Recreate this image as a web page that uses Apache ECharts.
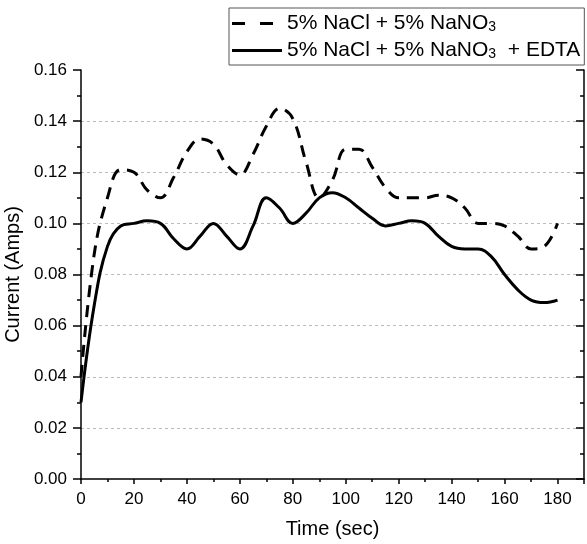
<!DOCTYPE html>
<html>
<head>
<meta charset="utf-8">
<script src="https://cdn.jsdelivr.net/npm/echarts@6/dist/echarts.min.js"></script>
<style>
  html, body { margin: 0; padding: 0; background: #fff; }
  #chart { width: 587px; height: 544px; }
</style>
</head>
<body>
<div id="chart"></div>
<script>
// time points (sec)
var times = [0, 5, 10, 15, 20, 25, 30, 35, 40, 45, 50, 55, 60, 65, 70, 75, 80, 85, 90,
  95, 100, 105, 110, 115, 120, 125, 130, 135, 140, 145, 150, 155, 160, 165, 170, 175, 180];
// 5% NaCl + 5% NaNO3
var nitrate = [0.040, 0.088, 0.110, 0.121, 0.120, 0.113, 0.110, 0.118, 0.128, 0.133, 0.131, 0.123, 0.119,
  0.127, 0.138, 0.145, 0.141, 0.124, 0.110, 0.117, 0.129, 0.129, 0.122, 0.114, 0.110, 0.110, 0.110,
  0.111, 0.110, 0.106, 0.100, 0.100, 0.099, 0.095, 0.090, 0.091, 0.100];
// 5% NaCl + 5% NaNO3 + EDTA
var edta = [0.030, 0.068, 0.091, 0.099, 0.100, 0.101, 0.100, 0.094, 0.090, 0.095, 0.100, 0.095, 0.090,
  0.099, 0.110, 0.106, 0.100, 0.104, 0.110, 0.112, 0.110, 0.106, 0.102, 0.099, 0.100, 0.101, 0.100,
  0.095, 0.091, 0.090, 0.090, 0.087, 0.080, 0.074, 0.070, 0.069, 0.070];
var seriesNames = ["5% NaCl + 5% NaNO3", "5% NaCl + 5% NaNO3 + EDTA"];

function pairs(ys) {
  return times.map(function (t, i) { return [t, ys[i]]; });
}

(function () {
  var myChart = echarts.init(document.getElementById('chart'));
  var font = "'Liberation Sans', Arial, sans-serif";

  // y axis style shared by the left and the mirror axis on the right
  var yBase = {
    type: 'value',
    min: 0,
    max: 0.16,
    interval: 0.02,
    minorTick: { show: true, splitNumber: 2, length: 4, lineStyle: { color: '#000', width: 1.5 } },
    axisTick: { length: 8, lineStyle: { color: '#000', width: 1.5 } },
    axisLine: { show: true, lineStyle: { color: '#000', width: 1.5 } }
  };

  var option = {
    animation: false,
    textStyle: { fontFamily: font },
    grid: { left: 81, right: 3, top: 70, bottom: 65, outerBoundsMode: 'none' },
    legend: {
      orient: 'vertical',
      left: 229,
      top: 8,
      padding: [5, 4, 4, 3],
      itemGap: 6,
      itemWidth: 50,
      itemHeight: 3,
      borderColor: '#555',
      borderWidth: 1,
      data: [
        // two dashes for the dashed sample, plain bar for the solid one
        { name: seriesNames[0], icon: 'path://M0,0h13v3h-13zM28,0h13v3h-13zM50,3' },
        { name: seriesNames[1], icon: 'rect' }
      ],
      itemStyle: { color: '#000', borderWidth: 0 },
      formatter: function (name) {
        if (name === seriesNames[0]) return '{a|5% NaCl + 5% NaNO}{s|3}';
        return '{a|5% NaCl + 5% NaNO}{s|3}{a|  + EDTA}';
      },
      textStyle: {
        color: '#000',
        rich: {
          a: { fontSize: 21, fontFamily: font, color: '#000', lineHeight: 21 },
          s: { fontSize: 14, fontFamily: font, color: '#000', verticalAlign: 'bottom', lineHeight: 14 }
        }
      }
    },
    xAxis: {
      type: 'value',
      min: 0,
      max: 190,
      interval: 20,
      name: 'Time (sec)',
      nameLocation: 'middle',
      nameGap: 40,
      nameTextStyle: { fontSize: 20, color: '#000', fontFamily: font },
      axisLine: { onZero: false, lineStyle: { color: '#000', width: 1.5 } },
      axisTick: { length: 5, lineStyle: { color: '#000', width: 1.5 } },
      minorTick: { show: true, splitNumber: 2, length: 3, lineStyle: { color: '#000', width: 1.5 } },
      axisLabel: { fontSize: 17, color: '#000', margin: 12, showMaxLabel: false },
      splitLine: { show: false }
    },
    yAxis: [
      Object.assign({}, yBase, {
        position: 'left',
        name: 'Current (Amps)',
        nameLocation: 'middle',
        nameGap: 49,
        nameTextStyle: { fontSize: 20, color: '#000', fontFamily: font },
        axisLabel: {
          fontSize: 17, color: '#000', margin: 14,
          formatter: function (v) { return v.toFixed(2); }
        },
        splitLine: {
          show: true,
          showMinLine: false,
          showMaxLine: false,
          lineStyle: { color: '#bbb', width: 1, type: [3, 3] }
        }
      }),
      Object.assign({}, yBase, {
        position: 'right',
        axisTick: { inside: true, length: 8, lineStyle: { color: '#000', width: 1.5 } },
        minorTick: { show: true, splitNumber: 2, length: 4, lineStyle: { color: '#000', width: 1.5 } },
        axisLabel: { show: false },
        splitLine: { show: false }
      })
    ],
    series: [
      {
        name: seriesNames[0],
        type: 'line',
        smooth: 0.4,
        symbol: 'none',
        data: pairs(nitrate),
        lineStyle: { color: '#000', width: 3, type: [12, 8] },
        itemStyle: { color: '#000' }
      },
      {
        name: seriesNames[1],
        type: 'line',
        smooth: 0.4,
        symbol: 'none',
        data: pairs(edta),
        lineStyle: { color: '#000', width: 3 },
        itemStyle: { color: '#000' }
      }
    ]
  };

  myChart.setOption(option);
  window.addEventListener('resize', function () {
    myChart.resize();
  });
})();
</script>
</body>
</html>
